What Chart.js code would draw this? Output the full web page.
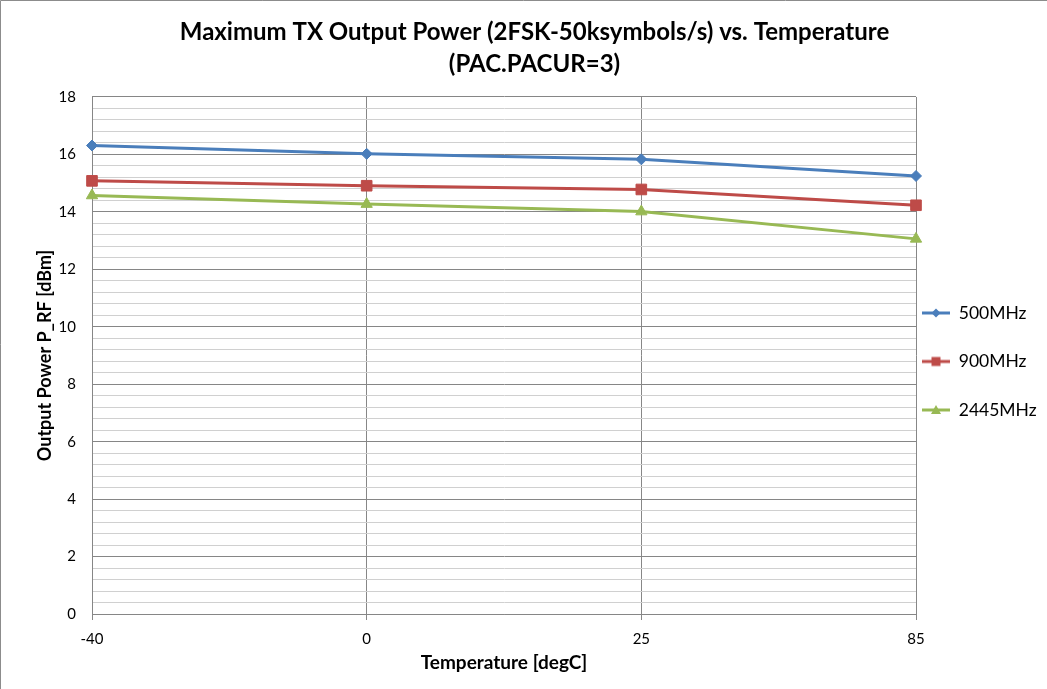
<!DOCTYPE html>
<html>
<head>
<meta charset="utf-8">
<script src="https://cdn.jsdelivr.net/npm/chart.js@4.4.0/dist/chart.umd.min.js"></script>
<style>
html, body { margin: 0; padding: 0; background: #fff; }
#wrap { width: 1047px; height: 689px; position: relative; }
</style>
</head>
<body>
<div id="wrap"><canvas id="txPowerChart"></canvas></div>
<script>
const TEMPERATURES = ['-40', '0', '25', '85'];
const POWER_500MHZ = [16.31, 16.02, 15.83, 15.25];
const POWER_900MHZ = [15.08, 14.91, 14.78, 14.23];
const POWER_2445MHZ = [14.57, 14.27, 14.01, 13.06];
const SERIES_NAMES = ['500MHz', '900MHz', '2445MHz'];
const Y_MIN = 0;
const Y_MAX = 18;
const Y_MAJOR_STEP = 2;
const Y_MINOR_STEP = 0.4;

const FONT_FAMILY = 'Lato, "Open Sans", sans-serif';
const COLORS = ['#4A7EBB', '#BE4B48', '#98B954'];
const MARKERS = ['rectRot', 'rect', 'triangle'];
const MARKER_SIZES = [5.5, 7.5, 6.5];

const CHART_CANVAS = document.querySelector('#txPowerChart');

function isMajorTick(value) {
	return Math.round(value * 10) % Math.round(Y_MAJOR_STEP * 10) === 0;
}

// small canvas with a line and its marker, used as legend symbol
function legendIcon(color, marker) {
	const c = document.createElement('canvas');
	c.width = 28;
	c.height = 16;
	const ctx = c.getContext('2d');
	ctx.strokeStyle = color;
	ctx.fillStyle = color;
	ctx.lineWidth = 3;
	ctx.beginPath();
	ctx.moveTo(0, 8);
	ctx.lineTo(28, 8);
	ctx.stroke();
	ctx.beginPath();
	if (marker === 'rectRot') {
		ctx.moveTo(14, 3.5);
		ctx.lineTo(18.5, 8);
		ctx.lineTo(14, 12.5);
		ctx.lineTo(9.5, 8);
	} else if (marker === 'rect') {
		ctx.rect(9.5, 3.5, 9, 9);
	} else {
		ctx.moveTo(14, 3);
		ctx.lineTo(19, 12);
		ctx.lineTo(9, 12);
	}
	ctx.closePath();
	ctx.fill();
	return c;
}

function makeDataset(label, data, i) {
	return {
		label: label,
		data: data,
		borderColor: COLORS[i],
		backgroundColor: COLORS[i],
		borderWidth: 3,
		pointStyle: MARKERS[i],
		pointRadius: MARKER_SIZES[i],
		pointBackgroundColor: COLORS[i],
		pointBorderColor: COLORS[i],
		pointBorderWidth: 1,
		tension: 0,
		fill: false,
	};
}

const outerFrame = {
	id: 'outerFrame',
	beforeDraw(chart) {
		const ctx = chart.ctx;
		ctx.save();
		ctx.fillStyle = '#fff';
		ctx.fillRect(0, 0, chart.width, chart.height);
		ctx.strokeStyle = '#8C8C8C';
		ctx.lineWidth = 1;
		ctx.beginPath();
		ctx.moveTo(0.5, chart.height);
		ctx.lineTo(0.5, 0.5);
		ctx.lineTo(chart.width, 0.5);
		ctx.stroke();
		ctx.restore();
	},
};

// legend sits to the right of the plot with a fixed width
const LEGEND_WIDTH = 131;
const legendPlacement = {
	id: 'legendPlacement',
	beforeLayout(chart) {
		const lg = chart.legend;
		if (lg && !lg._fixedFit) {
			const fit = lg.fit.bind(lg);
			lg.fit = function () {
				fit();
				if (!this.isHorizontal()) this.width = LEGEND_WIDTH;
			};
			lg._fixedFit = true;
		}
	},
	afterLayout(chart) {
		const lg = chart.legend;
		const pad = lg.options.labels.padding;
		lg.left = chart.chartArea.right + 6 - pad;
		lg.top += 17;
		lg.bottom += 17;
	},
};

const chart = new Chart(CHART_CANVAS, {
	type: 'line',
	data: {
		labels: TEMPERATURES,
		datasets: [
			makeDataset(SERIES_NAMES[0], POWER_500MHZ, 0),
			makeDataset(SERIES_NAMES[1], POWER_900MHZ, 1),
			makeDataset(SERIES_NAMES[2], POWER_2445MHZ, 2),
		],
	},
	options: {
		responsive: true,
		maintainAspectRatio: false,
		animation: false,
		layout: {
			padding: { left: 22, right: 0, top: 0, bottom: 0 },
		},
		scales: {
			x: {
				type: 'category',
				offset: false,
				grid: {
					color: '#878787',
					lineWidth: 1,
					tickLength: 6,
				},
				border: { color: '#868686', width: 1 },
				ticks: {
					color: '#000',
					font: { family: FONT_FAMILY, size: 15 },
					padding: 10,
					maxRotation: 0,
				},
				title: {
					display: true,
					text: 'Temperature [degC]',
					color: '#000',
					font: { family: FONT_FAMILY, size: 19, weight: 'bold' },
					padding: { top: 8, bottom: 15 },
				},
				afterFit(scale) {
					scale.height = 75;
				},
			},
			y: {
				min: Y_MIN,
				max: Y_MAX,
				grid: {
					color: ctx => (isMajorTick(ctx.tick.value) ? '#868686' : '#D0D0D0'),
					lineWidth: 1,
					drawTicks: false,
				},
				border: { color: '#868686', width: 1 },
				ticks: {
					stepSize: Y_MINOR_STEP,
					maxTicksLimit: 100,
					autoSkip: false,
					color: '#000',
					font: { family: FONT_FAMILY, size: 15 },
					padding: 16,
					callback: value => (isMajorTick(value) ? String(Math.round(value)) : ''),
				},
				title: {
					display: true,
					text: 'Output Power P_RF [dBm]',
					color: '#000',
					font: { family: FONT_FAMILY, size: 18, weight: 'bold' },
					padding: { top: 12, bottom: 0 },
				},
				afterFit(scale) {
					scale.width = 70;
				},
			},
		},
		plugins: {
			title: {
				display: true,
				text: ['Maximum TX Output Power (2FSK-50ksymbols/s) vs. Temperature', '(PAC.PACUR=3)'],
				color: '#000',
				font: { family: FONT_FAMILY, size: 24, weight: 'bold', lineHeight: 1.333 },
				padding: { top: 16, bottom: 17 },
			},
			legend: {
				display: true,
				position: 'right',
				labels: {
					usePointStyle: true,
					pointStyleWidth: 28,
					padding: 31,
					color: '#000',
					font: { family: FONT_FAMILY, size: 17.5 },
					generateLabels(ch) {
						const items = Chart.defaults.plugins.legend.labels.generateLabels(ch);
						items.forEach((item, i) => {
							item.pointStyle = legendIcon(COLORS[i], MARKERS[i]);
						});
						return items;
					},
				},
			},
			tooltip: { enabled: false },
		},
	},
	plugins: [outerFrame, legendPlacement],
});
</script>
</body>
</html>
